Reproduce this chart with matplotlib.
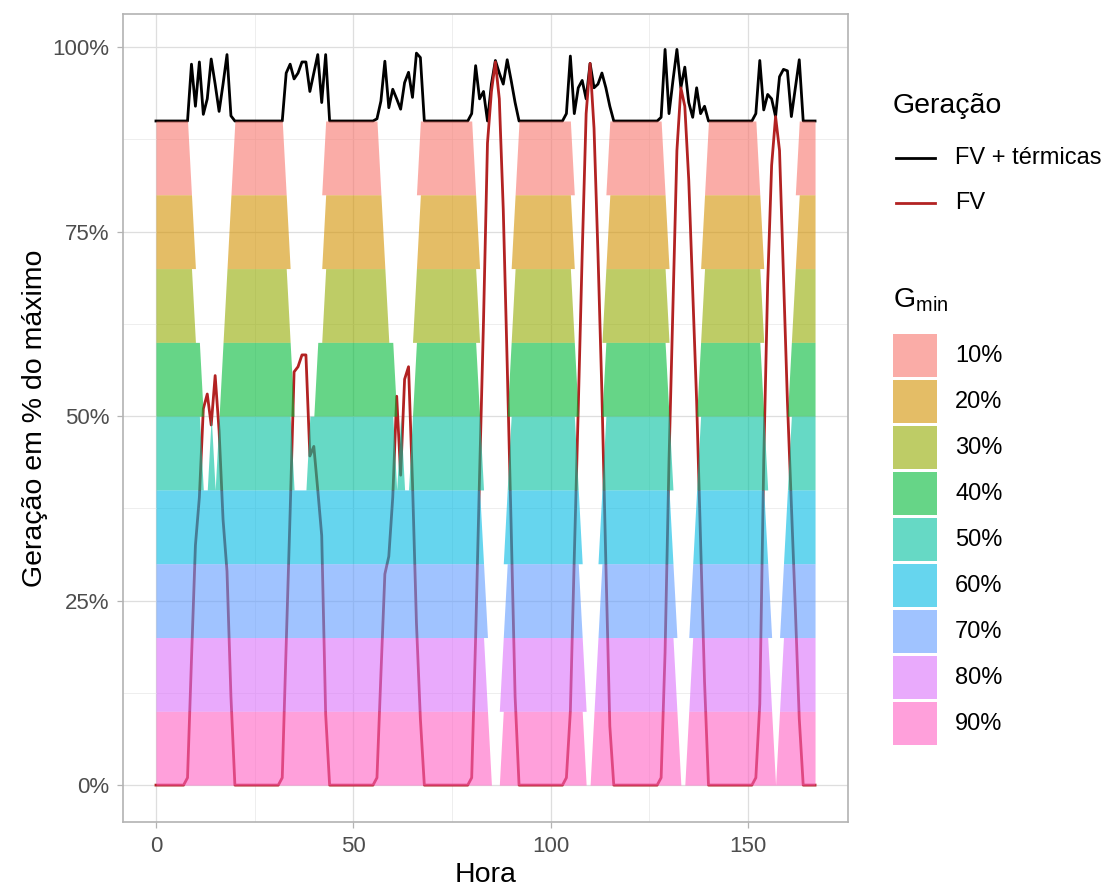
import numpy as np
import matplotlib
matplotlib.use("Agg")
import matplotlib.pyplot as plt
from matplotlib.lines import Line2D
from matplotlib.patches import Rectangle
from matplotlib.ticker import FixedLocator, FuncFormatter

plt.rcParams["font.family"] = ["Liberation Sans", "DejaVu Sans"]

# hourly values, one row per day (hours 0-23)
fv = [
    0, 0, 0, 0, 0, 0, 0, 0, .01, .17, .325, .39, .51, .53, .488, .555, .48, .36, .29, .12, 0, 0, 0, 0,
    0, 0, 0, 0, 0, 0, 0, 0, .01, .19, .37, .56, .567, .583, .583, .446, .459, .40, .338, .096, 0, 0, 0, 0,
    0, 0, 0, 0, 0, 0, 0, 0, .01, .15, .286, .31, .39, .527, .42, .55, .567, .41, .22, .09, 0, 0, 0, 0,
    0, 0, 0, 0, 0, 0, 0, 0, .01, .20, .42, .63, .87, .94, .98, .93, .78, .57, .35, .12, 0, 0, 0, 0,
    0, 0, 0, 0, 0, 0, 0, 0, .01, .10, .31, .51, .72, .91, .978, .89, .72, .53, .30, .08, 0, 0, 0, 0,
    0, 0, 0, 0, 0, 0, 0, 0, .01, .18, .44, .65, .86, .945, .92, .82, .67, .52, .33, .14, 0, 0, 0, 0,
    0, 0, 0, 0, 0, 0, 0, 0, .01, .11, .44, .68, .84, .906, .86, .69, .52, .38, .24, .09, 0, 0, 0, 0,
]
fv_term = [
    .9, .9, .9, .9, .9, .9, .9, .9, .90, .977, .92, .98, .909, .93, .984, .95, .913, .95, .99, .907, .9, .9, .9, .9,
    .9, .9, .9, .9, .9, .9, .9, .9, .90, .965, .977, .957, .965, .98, .98, .94, .965, .99, .925, .99, .9, .9, .9, .9,
    .9, .9, .9, .9, .9, .9, .9, .9, .903, .927, .981, .918, .943, .93, .916, .952, .966, .932, .992, .986, .9, .9, .9, .9,
    .9, .9, .9, .9, .9, .9, .9, .9, .91, .975, .93, .94, .90, .95, .982, .965, .95, .983, .955, .925, .9, .9, .9, .9,
    .9, .9, .9, .9, .9, .9, .9, .9, .91, .988, .91, .945, .955, .93, .978, .945, .95, .965, .945, .92, .9, .9, .9, .9,
    .9, .9, .9, .9, .9, .9, .9, .9, .905, .997, .91, .955, .997, .945, .973, .925, .905, .945, .91, .92, .9, .9, .9, .9,
    .9, .9, .9, .9, .9, .9, .9, .9, .91, .982, .915, .936, .93, .906, .96, .97, .968, .906, .945, .983, .9, .9, .9, .9,
]
gmin = [0.1, 0.2, 0.3, 0.4, 0.5, 0.6, 0.7, 0.8, 0.9]
gmin_labels = ["10%", "20%", "30%", "40%", "50%", "60%", "70%", "80%", "90%"]
band_colors = ["#F8766D", "#D39200", "#93AA00", "#00BA38", "#00C19F",
               "#00B9E3", "#619CFF", "#DB72FB", "#FF61C3"]
serie_labels = ["FV + térmicas", "FV"]
serie_colors = ["black", "#B22222"]

hora = np.arange(len(fv))
fv = np.array(fv)
fv_term = np.array(fv_term)

W, H = 1105, 888
fig = plt.figure(figsize=(W / 100, H / 100), dpi=100)
ax = fig.add_axes([123 / W, 1 - 822 / H, 725 / W, 808 / H])

ax.plot(hora, fv_term, color=serie_colors[0], lw=2.0, zorder=2)
ax.plot(hora, fv, color=serie_colors[1], lw=2.0, zorder=2)

# each G_min band sits in its own 10% slot and is shown while FV stays below G_min
for g, col in zip(gmin, band_colors):
    low = 0.9 - g
    on = (fv <= g + 1e-9).astype(float)
    ax.fill_between(hora, low, low + 0.1 * on, color=col, alpha=0.6,
                    lw=0, zorder=3)

ax.set_xlim(-8.35, 175.35)
ax.set_ylim(-0.05, 1.045)
ax.xaxis.set_major_locator(FixedLocator([0, 50, 100, 150]))
ax.xaxis.set_minor_locator(FixedLocator([25, 75, 125]))
ax.yaxis.set_major_locator(FixedLocator([0, .25, .5, .75, 1]))
ax.yaxis.set_minor_locator(FixedLocator([.125, .375, .625, .875]))
ax.yaxis.set_major_formatter(FuncFormatter(lambda v, p: f"{v * 100:.0f}%"))
ax.grid(which="major", color="#DEDEDE", lw=0.9, zorder=0)
ax.grid(which="minor", color="#EBEBEB", lw=0.6, zorder=0)
ax.set_axisbelow(True)
for s in ax.spines.values():
    s.set_color("#B3B3B3")
    s.set_linewidth(1.2)
ax.tick_params(which="major", colors="#B3B3B3", labelcolor="#4D4D4D",
               labelsize=16, length=4.5, width=0.9, pad=5.5)
ax.tick_params(which="minor", length=0)
ax.set_xlabel("Hora", fontsize=20.5, labelpad=4)
ax.set_ylabel("Geração em % do máximo", fontsize=20.5, labelpad=3)

# legends drawn by hand in figure pixels
def fx(px):
    return px / W


def fy(py):
    return 1 - py / H


fig.text(fx(893), fy(106), "Geração", fontsize=20.5, va="center", ha="left")
for i, (lab, col) in enumerate(zip(serie_labels, serie_colors)):
    yc = 158 + 45 * i
    fig.add_artist(Line2D([fx(896), fx(935)], [fy(yc), fy(yc)], color=col,
                          lw=2.0, transform=fig.transFigure))
    fig.text(fx(955), fy(yc), lab, fontsize=17, va="center", ha="left")

fig.text(fx(893), fy(300), "G$_{\\mathregular{min}}$", fontsize=20.5,
         va="center", ha="left")
for i, (lab, col) in enumerate(zip(gmin_labels, band_colors)):
    yc = 356 + 46 * i
    fig.add_artist(Rectangle((fx(893), fy(yc + 22)), fx(44), 44 / H,
                             facecolor=col, alpha=0.6, edgecolor="none",
                             transform=fig.transFigure))
    fig.add_artist(Rectangle((fx(893), fy(yc + 23)), fx(44), 2 / H,
                             facecolor="white", edgecolor="none",
                             transform=fig.transFigure))
    fig.text(fx(955), fy(yc), lab, fontsize=17, va="center", ha="left")

fig.savefig("out.png", dpi=100)
